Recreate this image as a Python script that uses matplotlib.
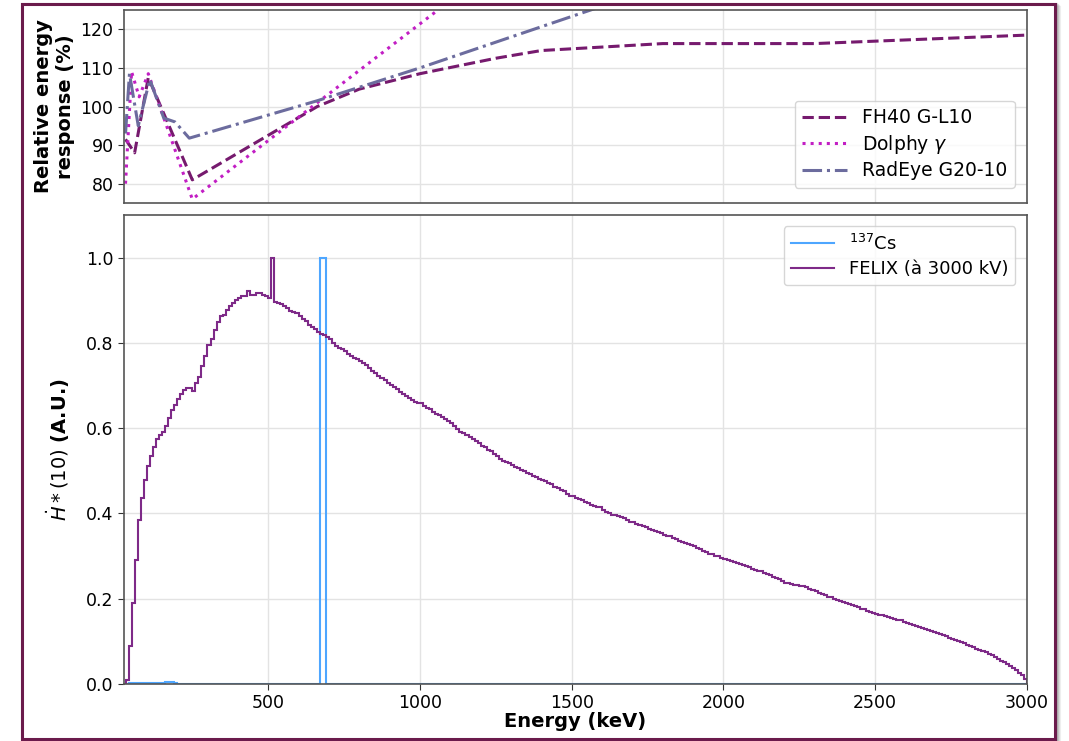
import numpy as np
import matplotlib.pyplot as plt
from matplotlib.patches import Rectangle

# --- response of the dose-rate meters (%) ---
fh40_E = [30, 60, 105, 250, 662, 800, 1000, 1250, 1400, 1800, 2300, 3000]
fh40_R = [91.5, 88, 107.5, 81, 100, 104.5, 108.5, 112.5, 114.5, 116.3, 116.3, 118.5]

dolphy_E = [30, 50, 75, 105, 250, 662, 1250]
dolphy_R = [80, 109, 102.5, 108.5, 76, 101, 136.5]

radeye_E = [30, 43, 72, 110, 156, 193, 240, 662, 1000, 1600]
radeye_R = [93, 108.5, 95, 107, 97, 96, 91.8, 101.5, 110, 126]

# --- spectra, 10 keV bins from 30 keV to 3000 keV ---
bin_lo, bin_hi, bin_w = 30, 3000, 10

felix = [
    0.010, 0.090, 0.190, 0.290, 0.385, 0.436, 0.479,                                   # 30-100
    0.512, 0.534, 0.555, 0.575, 0.585, 0.590, 0.605, 0.625, 0.643, 0.655,              # 100-200
    0.668, 0.680, 0.690, 0.695, 0.694, 0.688, 0.705, 0.720, 0.745, 0.770,              # 200-300
    0.795, 0.810, 0.830, 0.850, 0.862, 0.866, 0.878, 0.886, 0.893, 0.901,              # 300-400
    0.905, 0.909, 0.910, 0.921, 0.913, 0.913, 0.916, 0.918, 0.912, 0.911,              # 400-500
    0.906, 1.000, 0.897, 0.894, 0.891, 0.886, 0.882, 0.876, 0.872, 0.869,              # 500-600
    0.862, 0.856, 0.852, 0.842, 0.838, 0.832, 0.826, 0.822, 0.818, 0.814,              # 600-700
    0.808, 0.800, 0.793, 0.789, 0.785, 0.780, 0.773, 0.769, 0.765, 0.762,              # 700-800
    0.757, 0.752, 0.748, 0.742, 0.735, 0.730, 0.722, 0.718, 0.713, 0.707,              # 800-900
    0.702, 0.697, 0.692, 0.686, 0.680, 0.675, 0.671, 0.667, 0.662, 0.658,              # 900-1000
    0.658, 0.653, 0.648, 0.644, 0.638, 0.634, 0.630, 0.626, 0.621, 0.617,              # 1000-1100
    0.612, 0.605, 0.598, 0.592, 0.589, 0.585, 0.579, 0.574, 0.571, 0.566,              # 1100-1200
    0.559, 0.555, 0.550, 0.546, 0.539, 0.534, 0.528, 0.524, 0.521, 0.518,              # 1200-1300
    0.514, 0.510, 0.507, 0.503, 0.499, 0.496, 0.493, 0.489, 0.485, 0.481,              # 1300-1400
    0.478, 0.476, 0.472, 0.468, 0.463, 0.459, 0.456, 0.452, 0.446, 0.440,              # 1400-1500
    0.442, 0.437, 0.434, 0.431, 0.427, 0.425, 0.421, 0.418, 0.416, 0.414,              # 1500-1600
    0.409, 0.404, 0.400, 0.396, 0.397, 0.394, 0.392, 0.389, 0.385, 0.381,              # 1600-1700
    0.379, 0.376, 0.373, 0.370, 0.368, 0.364, 0.362, 0.360, 0.357, 0.353,              # 1700-1800
    0.350, 0.347, 0.346, 0.343, 0.339, 0.336, 0.333, 0.331, 0.328, 0.325,              # 1800-1900
    0.323, 0.319, 0.316, 0.312, 0.309, 0.306, 0.304, 0.300, 0.301, 0.296,              # 1900-2000
    0.294, 0.291, 0.289, 0.286, 0.284, 0.282, 0.279, 0.277, 0.274, 0.270,              # 2000-2100
    0.268, 0.265, 0.264, 0.260, 0.257, 0.255, 0.251, 0.249, 0.246, 0.242,              # 2100-2200
    0.238, 0.236, 0.234, 0.233, 0.232, 0.230, 0.229, 0.227, 0.222, 0.220,              # 2200-2300
    0.217, 0.214, 0.210, 0.208, 0.205, 0.203, 0.200, 0.197, 0.195, 0.192,              # 2300-2400
    0.191, 0.188, 0.185, 0.183, 0.180, 0.177, 0.175, 0.172, 0.170, 0.167,              # 2400-2500
    0.165, 0.163, 0.161, 0.160, 0.158, 0.155, 0.153, 0.150, 0.149, 0.146,              # 2500-2600
    0.143, 0.140, 0.138, 0.136, 0.134, 0.132, 0.130, 0.127, 0.125, 0.123,              # 2600-2700
    0.120, 0.117, 0.114, 0.112, 0.109, 0.106, 0.103, 0.101, 0.098, 0.095,              # 2700-2800
    0.092, 0.089, 0.086, 0.083, 0.080, 0.077, 0.074, 0.071, 0.067, 0.063,              # 2800-2900
    0.059, 0.055, 0.051, 0.047, 0.042, 0.037, 0.032, 0.026, 0.020, 0.012,              # 2900-3000
]

# Cs-137: low tail below the line, line itself, nothing above
cs_low = [0.001, 0.003, 0.003, 0.003, 0.003, 0.002, 0.002, 0.002, 0.002, 0.002,
          0.002, 0.002, 0.003, 0.004, 0.005, 0.004, 0.002, 0.001]          # 30-210
cs_mid = [0.001] * 46                                                      # 210-670
cs_line = [1.0, 1.0]                                                       # 670-690
cs_high = [0.0] * 231                                                      # 690-3000
cs137 = cs_low + cs_mid + cs_line + cs_high

edges = np.arange(bin_lo, bin_hi + bin_w, bin_w)

plt.rcParams['font.family'] = 'DejaVu Sans'

fig = plt.figure(figsize=(10.69, 7.41), dpi=100)
W, H = 1069, 741

# framed screenshot look: drop shadow + dark purple border (behind the axes)
for k, a in enumerate([0.06, 0.08, 0.10, 0.12]):
    off = 4 - k
    fig.patches.append(Rectangle(((22 + off) / W, 1 - (739 + off) / H), 1033 / W, 735 / H,
                                 transform=fig.transFigure, facecolor='none',
                                 edgecolor='black', alpha=a, lw=3, zorder=-3))
fig.patches.append(Rectangle((22 / W, 1 - 739 / H), 1033 / W, 735 / H,
                             transform=fig.transFigure, facecolor='white',
                             edgecolor='#6b1b4c', lw=2.2, zorder=-2))

ax1 = fig.add_axes([124 / W, 1 - 203 / H, (1027 - 124) / W, (203 - 10) / H])
ax2 = fig.add_axes([124 / W, 1 - 684 / H, (1027 - 124) / W, (684 - 215) / H], sharex=ax1)

grid_c = '#e3e3e3'
for ax in (ax1, ax2):
    ax.grid(True, color=grid_c, lw=1)
    ax.set_axisbelow(True)
    for s in ax.spines.values():
        s.set_color('#555555')
        s.set_linewidth(1.2)
    ax.tick_params(labelsize=12.5, color='#333333', length=4)

# top panel
ax1.plot(fh40_E, fh40_R, ls='--', color='#761a6e', lw=2.2, label='FH40 G-L10')
ax1.plot(dolphy_E, dolphy_R, ls=':', color='#c21ec4', lw=2.2, label=r'Dolphy $\gamma$')
ax1.plot(radeye_E, radeye_R, ls='-.', color='#6c6c9e', lw=2.2, label='RadEye G20-10')
ax1.set_ylim(75, 125)
ax1.set_yticks([80, 90, 100, 110, 120])
ax1.tick_params(axis='x', labelbottom=False, length=0)
ax1.set_ylabel('Relative energy\nresponse (%)', fontsize=14, fontweight='bold', labelpad=4)
ax1.legend(loc='lower right', fontsize=13.5, bbox_to_anchor=(0.997, 0.03),
           handlelength=2.4, labelspacing=0.3)

# bottom panel
ax2.stairs(cs137, edges, color='#4ea6ff', lw=1.5, label=r'$^{137}$Cs')
ax2.stairs(felix, edges, color='#7e2a88', lw=1.5, label='FELIX (à 3000 kV)')
ax2.set_xlim(25, 3000)
ax2.set_ylim(0, 1.1)
ax2.set_xticks([500, 1000, 1500, 2000, 2500, 3000])
ax2.set_yticks([0.0, 0.2, 0.4, 0.6, 0.8, 1.0])
ax2.set_xlabel('Energy (keV)', fontsize=14, fontweight='bold', labelpad=0)
ax2.set_ylabel(r'$\dot{H}*(10)$ (A.U.)', fontsize=14, fontweight='bold', labelpad=10)
ax2.legend(loc='upper right', fontsize=13, bbox_to_anchor=(0.997, 0.995),
           handlelength=2.4, labelspacing=0.35)

fig.savefig('out.png', dpi=100)
